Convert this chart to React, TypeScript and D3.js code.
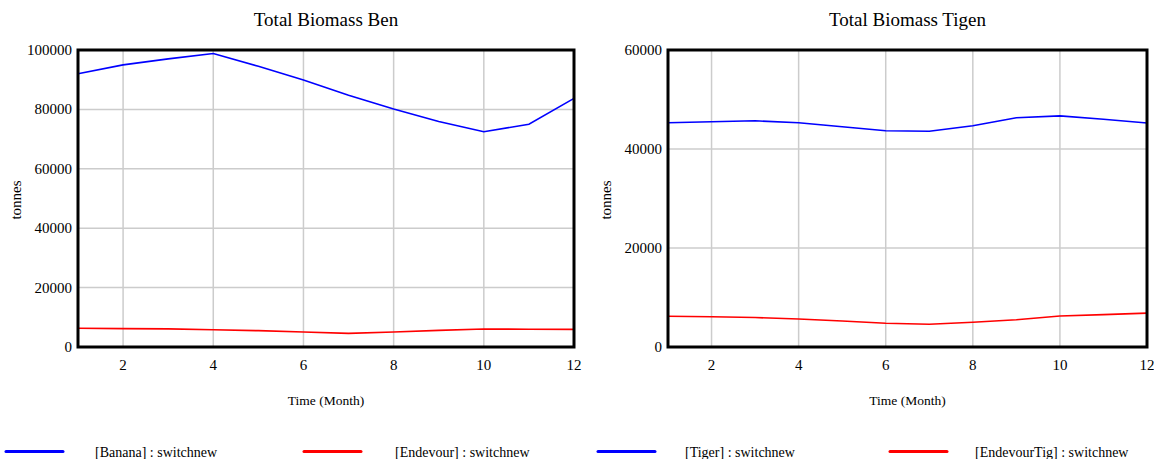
import React from "react";
import * as d3 from "d3";

const months = [1, 2, 3, 4, 5, 6, 7, 8, 9, 10, 11, 12];
const xTicks = [2, 4, 6, 8, 10, 12];

const bananaValues = [92000, 95000, 97000, 98800, 94500, 89900, 84800, 80100, 75900, 72500, 75000, 83700];
const endevourValues = [6300, 6200, 6100, 5800, 5500, 5050, 4600, 5050, 5600, 6050, 6000, 5950];
const tigerValues = [45300, 45500, 45700, 45300, 44500, 43700, 43600, 44700, 46300, 46700, 46000, 45250];
const endevourTigValues = [6200, 6100, 5950, 5650, 5250, 4800, 4600, 5000, 5500, 6250, 6550, 6850];

const benYTicks = [0, 20000, 40000, 60000, 80000, 100000];
const tigYTicks = [0, 20000, 40000, 60000];

const legendLabels = [
  "[Banana] : switchnew",
  "[Endevour] : switchnew",
  "[Tiger] : switchnew",
  "[EndevourTig] : switchnew",
];
const legendColors = ["#0000ff", "#ff0000", "#0000ff", "#ff0000"];

const FONT = "'Liberation Serif', 'Times New Roman', serif";

type PanelProps = {
  title: string;
  left: number;
  right: number;
  yMax: number;
  yTicks: number[];
  series: { values: number[]; color: string }[];
};

function Panel({ title, left, right, yMax, yTicks, series }: PanelProps) {
  const top = 50;
  const bottom = 347;
  const x = d3.scaleLinear().domain([1, 12]).range([left, right]);
  const y = d3.scaleLinear().domain([0, yMax]).range([bottom, top]);
  const line = d3
    .line<number>()
    .x((_, i) => x(months[i]))
    .y((d) => y(d));
  const cx = (left + right) / 2;
  return (
    <g>
      <text x={cx} y={26} textAnchor="middle" fontFamily={FONT} fontSize={19} fill="#000">
        {title}
      </text>
      {xTicks
        .filter((t) => t < 12)
        .map((t) => (
          <line key={"vx" + t} x1={x(t)} x2={x(t)} y1={top} y2={bottom} stroke="#cccccc" strokeWidth={1.5} />
        ))}
      {yTicks
        .filter((t) => t > 0 && t < yMax)
        .map((t) => (
          <line key={"hy" + t} x1={left} x2={right} y1={y(t)} y2={y(t)} stroke="#cccccc" strokeWidth={1.5} />
        ))}
      {series.map((s, i) => (
        <path key={i} d={line(s.values) || ""} fill="none" stroke={s.color} strokeWidth={1.6} />
      ))}
      <rect x={left} y={top} width={right - left} height={bottom - top} fill="none" stroke="#000" strokeWidth={3} />
      {yTicks.map((t) => (
        <text key={"yl" + t} x={left - 6} y={y(t) + 5} textAnchor="end" fontFamily={FONT} fontSize={15} fill="#000">
          {t}
        </text>
      ))}
      {xTicks.map((t) => (
        <text key={"xl" + t} x={x(t)} y={370} textAnchor="middle" fontFamily={FONT} fontSize={15} fill="#000">
          {t}
        </text>
      ))}
      <text x={cx} y={405} textAnchor="middle" fontFamily={FONT} fontSize={13.5} fill="#000">
        Time (Month)
      </text>
      <text
        transform={`translate(${left - 57},200) rotate(-90)`}
        textAnchor="middle"
        fontFamily={FONT}
        fontSize={15}
        fill="#000"
      >
        tonnes
      </text>
    </g>
  );
}

export default function App() {
  const legendLineX = [6, 304, 598, 890];
  const legendTextX = [95, 395, 685, 975];
  return (
    <svg width={1154} height={459} style={{ position: "absolute", left: 0, top: 0, background: "#fff" }}>
      <rect x={0} y={0} width={1154} height={459} fill="#fff" />
      <Panel
        title="Total Biomass Ben"
        left={78}
        right={574}
        yMax={100000}
        yTicks={benYTicks}
        series={[
          { values: bananaValues, color: "#0000ff" },
          { values: endevourValues, color: "#ff0000" },
        ]}
      />
      <Panel
        title="Total Biomass Tigen"
        left={668}
        right={1147}
        yMax={60000}
        yTicks={tigYTicks}
        series={[
          { values: tigerValues, color: "#0000ff" },
          { values: endevourTigValues, color: "#ff0000" },
        ]}
      />
      {legendLabels.map((lab, i) => (
        <g key={lab}>
          <line
            x1={legendLineX[i]}
            x2={legendLineX[i] + 57}
            y1={451.5}
            y2={451.5}
            stroke={legendColors[i]}
            strokeWidth={3}
            strokeLinecap="round"
          />
          <text x={legendTextX[i]} y={457} fontFamily={FONT} fontSize={14} fill="#000">
            {lab}
          </text>
        </g>
      ))}
    </svg>
  );
}
